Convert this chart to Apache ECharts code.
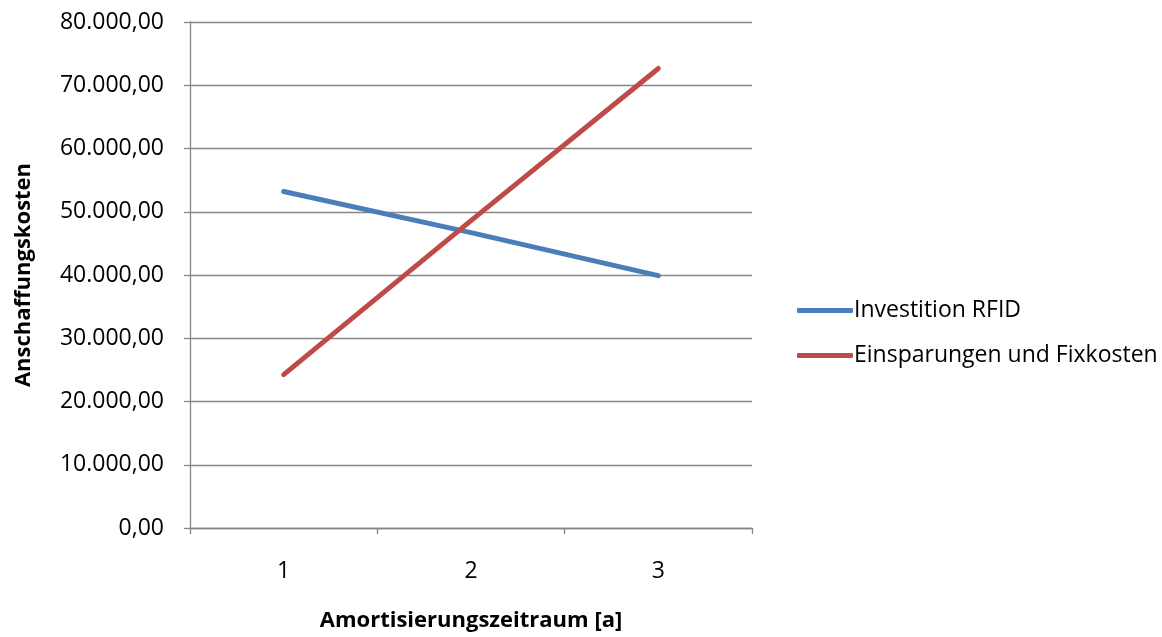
<!DOCTYPE html>
<html>
<head>
<meta charset="utf-8">
<script src="https://cdn.jsdelivr.net/npm/echarts@6/dist/echarts.min.js"></script>
<style>
  html, body { margin: 0; padding: 0; background: #fff; }
  #chart { width: 1162px; height: 637px; }
</style>
</head>
<body>
<div id="chart"></div>
<script>
// Amortisation period (years)
const categories = ['1', '2', '3'];
// Investment cost RFID
const investitionRFID = [53200, 46700, 39900];
// Savings and fixed costs
const einsparungenFixkosten = [24250, 48600, 72650];

const seriesNames = ['Investition RFID', 'Einsparungen und Fixkosten'];
const seriesColors = ['#4a7ebb', '#be4b48'];

const fontFamily = '"Open Sans", "Noto Sans", sans-serif';
const axisGray = '#868686';

// German number format: 80.000,00
function formatDE(v) {
  const fixed = v.toFixed(2);
  const [intPart, dec] = fixed.split('.');
  return intPart.replace(/\B(?=(\d{3})+(?!\d))/g, '.') + ',' + dec;
}

const chart = echarts.init(document.getElementById('chart'));
chart.setOption({
  backgroundColor: '#fff',
  animation: false,
  grid: { left: 190, right: 410, top: 22, bottom: 109 },
  legend: {
    orient: 'vertical',
    left: 792,
    top: 294,
    itemWidth: 56,
    itemHeight: 5,
    itemGap: 22,
    icon: 'roundRect',
    textStyle: { fontFamily, fontSize: 23, color: '#000', padding: [0, 0, 0, -4] },
    data: seriesNames
  },
  xAxis: {
    type: 'category',
    data: categories,
    boundaryGap: true,
    name: 'Amortisierungszeitraum [a]',
    nameLocation: 'middle',
    nameGap: 82,
    nameTextStyle: { fontFamily, fontSize: 22, fontWeight: 'bold', color: '#000' },
    axisLine: { lineStyle: { color: axisGray, width: 1.3 } },
    axisTick: { show: true, length: 6, lineStyle: { color: axisGray, width: 1.3 } },
    axisLabel: { fontFamily, fontSize: 23, color: '#000', margin: 32 }
  },
  yAxis: {
    type: 'value',
    min: 0,
    max: 80000,
    interval: 10000,
    name: 'Anschaffungskosten',
    nameLocation: 'middle',
    nameGap: 155,
    nameTextStyle: { fontFamily, fontSize: 22, fontWeight: 'bold', color: '#000' },
    axisLine: { show: true, lineStyle: { color: axisGray, width: 1.3 } },
    axisTick: { show: true, length: 6, lineStyle: { color: axisGray, width: 1.3 } },
    splitLine: { show: true, lineStyle: { color: axisGray, width: 1.3 } },
    axisLabel: { fontFamily, fontSize: 23, color: '#000', margin: 26, formatter: formatDE }
  },
  series: [
    {
      name: seriesNames[0],
      type: 'line',
      data: investitionRFID,
      symbol: 'none',
      lineStyle: { color: seriesColors[0], width: 5, cap: 'round' },
      itemStyle: { color: seriesColors[0] }
    },
    {
      name: seriesNames[1],
      type: 'line',
      data: einsparungenFixkosten,
      symbol: 'none',
      lineStyle: { color: seriesColors[1], width: 5, cap: 'round' },
      itemStyle: { color: seriesColors[1] }
    }
  ]
});
</script>
</body>
</html>
